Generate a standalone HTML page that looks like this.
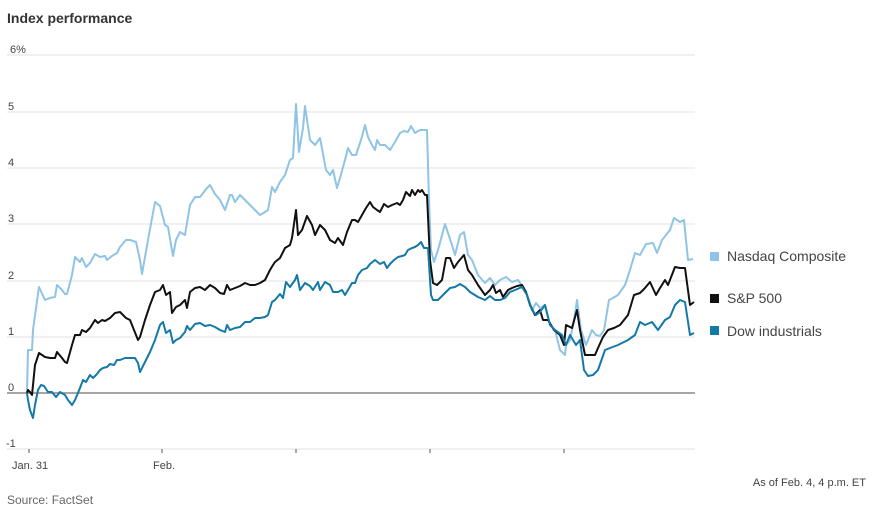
<!DOCTYPE html>
<html><head><meta charset="utf-8"><style>
body{margin:0;background:#fff;width:880px;height:506px;overflow:hidden;font-family:"Liberation Sans",sans-serif}
</style></head><body>
<svg width="880" height="506" xmlns="http://www.w3.org/2000/svg" font-family="Liberation Sans, sans-serif">
<text x="7" y="23" font-size="14" font-weight="bold" fill="#333">Index performance</text>
<g stroke="#ececec" stroke-width="1.5">
<line x1="7" x2="695" y1="55" y2="55"/><line x1="7" x2="695" y1="112" y2="112"/><line x1="7" x2="695" y1="168" y2="168"/>
<line x1="7" x2="695" y1="224" y2="224"/><line x1="7" x2="695" y1="281" y2="281"/><line x1="7" x2="695" y1="337" y2="337"/>
<line x1="7" x2="695" y1="449" y2="449"/>
</g>
<line x1="7" x2="695" y1="393" y2="393" stroke="#888" stroke-width="1.5"/>
<g font-size="11" fill="#444">
<text x="10" y="53">6%</text><text x="8" y="110">5</text><text x="8" y="166">4</text><text x="8" y="222">3</text>
<text x="8" y="279">2</text><text x="8" y="335">1</text><text x="8" y="391">0</text><text x="6" y="447">-1</text>
<text x="12" y="469">Jan. 31</text><text x="153" y="469">Feb.</text>
</g>
<g stroke="#555" stroke-width="1"><line x1="29" x2="29" y1="449" y2="453"/><line x1="162" x2="162" y1="449" y2="453"/><line x1="296" x2="296" y1="449" y2="453"/><line x1="430" x2="430" y1="449" y2="453"/><line x1="564" x2="564" y1="449" y2="453"/></g>
<g fill="none" stroke-width="2" stroke-linejoin="round">
<polyline stroke="#8fc4e6" points="27,393 28,350 32,350 33,330 39,287 45,300 50,298 55,297 57,285 62,290 65,294 67,294 72,275 75,257 78,260 80,262 82,258 86,267 90,263 95,254 100,257 105,256 107,260 112,256 117,253 120,247 126,240 130,240 136,242 140,260 142,274 148,240 155,202 160,206 165,225 168,227 173,256 176,240 180,232 185,235 190,205 195,197 200,197 207,188 210,185 215,194 220,200 225,210 230,195 232,195 235,202 240,195 245,200 250,205 255,210 260,215 265,212 268,210 272,187 275,192 280,182 285,175 288,166 290,160 293,158 296,104 299,152 303,128 305,106 310,140 315,145 320,138 326,170 330,175 333,170 337,188 340,178 345,160 348,148 352,155 356,155 361,140 365,125 368,137 372,145 375,150 377,140 380,145 385,145 390,150 395,142 400,133 404,131 408,132 411,126 415,133 420,130 427,130 429,200 431,250 434,262 438,250 445,224 452,245 455,255 460,235 464,232 468,255 472,260 478,275 485,283 490,278 495,285 500,280 506,277 512,282 518,280 523,287 527,295 532,310 536,303 540,308 545,305 550,325 555,330 560,350 565,355 566,345 570,340 574,320 577,300 581,330 586,345 592,330 596,335 600,336 604,330 609,300 613,298 618,295 625,285 630,270 635,253 640,255 646,244 653,243 657,253 662,240 666,235 670,230 674,218 680,222 684,220 688,260 693,259"/>
<polyline stroke="#111" points="27,393 28,390 30,392 32,395 35,365 39,353 45,357 50,358 55,358 57,352 62,358 65,362 67,363 72,345 75,335 80,335 82,330 86,332 90,328 95,320 98,323 102,320 105,321 110,318 115,313 120,312 123,315 126,318 130,320 138,340 140,337 145,320 150,305 155,292 160,290 163,285 166,295 170,292 172,313 176,307 180,305 185,300 187,308 190,292 195,288 200,287 205,290 210,285 215,288 220,293 224,294 227,285 230,290 235,288 240,286 245,283 250,285 255,285 260,283 265,280 270,270 273,265 275,262 280,258 285,248 290,245 292,238 296,210 298,235 302,230 307,216 312,225 315,235 320,225 325,230 330,240 335,243 338,238 343,245 347,232 352,220 355,220 358,222 362,215 366,208 370,202 373,207 377,210 380,212 384,204 388,207 392,205 397,203 400,205 403,200 406,192 410,196 412,190 415,195 418,190 420,192 422,190 425,195 427,195 430,260 433,283 437,285 442,280 446,258 450,258 454,268 458,262 464,255 468,270 472,275 478,285 485,295 490,290 493,285 496,293 500,290 503,297 508,290 512,288 517,286 522,285 526,292 530,305 535,315 540,310 543,320 548,320 554,330 560,335 564,345 566,325 572,328 577,310 580,330 585,355 590,355 595,355 598,348 603,337 608,330 614,328 620,325 628,315 634,295 640,293 645,288 650,282 656,295 660,288 665,280 668,285 675,267 680,268 685,268 690,305 694,302"/>
<polyline stroke="#1479a7" points="27,393 28,400 30,410 33,418 35,405 38,390 41,385 44,386 48,392 52,392 56,397 60,392 65,395 68,400 72,405 75,400 80,388 83,380 86,382 90,375 93,378 97,374 100,370 103,368 107,367 110,364 114,365 117,360 120,360 125,358 135,358 138,363 140,372 145,362 150,352 155,340 160,325 163,322 166,333 170,330 173,343 176,340 180,338 185,332 187,326 190,330 195,324 200,323 205,326 210,325 215,327 220,330 225,332 227,325 230,330 235,328 240,327 245,322 250,322 255,318 260,318 265,317 268,315 272,302 275,300 280,294 283,298 286,282 290,287 295,280 297,275 300,290 305,283 310,286 313,290 318,282 320,290 325,282 330,285 333,292 338,292 342,290 345,295 348,290 352,283 355,283 358,275 362,270 367,268 370,264 375,260 380,264 384,262 387,268 390,264 394,260 398,257 402,256 405,255 408,250 412,248 415,247 418,245 421,242 424,248 428,248 431,295 433,300 438,300 445,293 450,288 455,287 460,284 465,287 470,292 478,297 485,300 490,296 495,300 500,300 505,298 510,292 515,290 522,287 527,295 532,310 536,315 540,312 545,305 550,325 555,330 562,335 566,345 570,335 576,345 580,340 584,370 588,376 593,375 598,370 605,350 610,348 618,345 628,340 635,335 640,322 645,325 652,322 658,330 665,320 670,317 675,305 680,300 685,302 690,335 694,333"/>
</g>
<rect x="710" y="252" width="9" height="9" fill="#8fc4e6"/>
<rect x="710" y="294" width="9" height="9" fill="#111"/>
<rect x="710" y="326" width="9" height="9" fill="#1479a7"/>
<g font-size="14" fill="#444">
<text x="727" y="261">Nasdaq Composite</text>
<text x="727" y="303">S&amp;P 500</text>
<text x="727" y="336">Dow industrials</text>
</g>
<text x="866" y="486" font-size="11" fill="#444" text-anchor="end">As of Feb. 4, 4 p.m. ET</text>
<text x="7" y="504" font-size="12" fill="#666">Source: FactSet</text>
</svg>
</body></html>
